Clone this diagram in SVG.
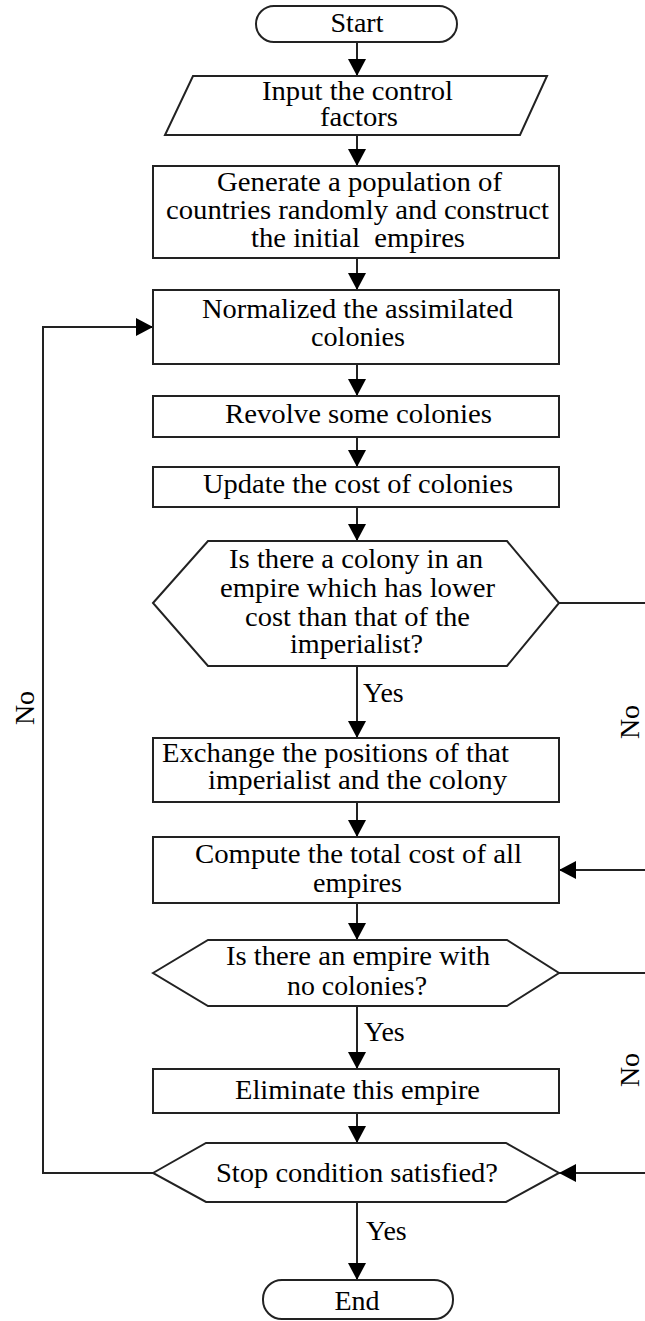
<svg xmlns="http://www.w3.org/2000/svg" width="645" height="1321" viewBox="0 0 645 1321">
<style>
.n{fill:#fff;stroke:#222;stroke-width:2}
.t{font-family:'Liberation Serif','Times New Roman',Times,'DejaVu Serif','Noto Serif',serif;font-size:28px;fill:#000;text-anchor:middle}
.s{text-anchor:start}
.c{fill:none;stroke:#222;stroke-width:2}
</style>
<defs>
<marker id="ah" viewBox="0 0 17 18" refX="17" refY="9" markerWidth="17" markerHeight="18" markerUnits="userSpaceOnUse" orient="auto">
<path d="M0,0 L17,9 L0,18 z" fill="#000"/>
</marker>
</defs>
<rect width="645" height="1321" fill="#fff"/>
<g id="connectors">
<path class="c" d="M357,42 V76" marker-end="url(#ah)"/>
<path class="c" d="M357,135 V166" marker-end="url(#ah)"/>
<path class="c" d="M357,258 V290" marker-end="url(#ah)"/>
<path class="c" d="M357,364 V396" marker-end="url(#ah)"/>
<path class="c" d="M357,437 V467" marker-end="url(#ah)"/>
<path class="c" d="M357,507 V541" marker-end="url(#ah)"/>
<path class="c" d="M357,666 V738" marker-end="url(#ah)"/>
<path class="c" d="M357,802 V837" marker-end="url(#ah)"/>
<path class="c" d="M357,903 V940" marker-end="url(#ah)"/>
<path class="c" d="M357,1006 V1069" marker-end="url(#ah)"/>
<path class="c" d="M357,1113 V1143" marker-end="url(#ah)"/>
<path class="c" d="M357,1202 V1280" marker-end="url(#ah)"/>
<path class="c" d="M559,603 H660 V870 H559" marker-end="url(#ah)"/>
<path class="c" d="M559,973 H660 V1173 H559" marker-end="url(#ah)"/>
<path class="c" d="M153,1173 H43 V327 H153" marker-end="url(#ah)"/>
<text class="t s" x="363" y="702">Yes</text>
<text class="t s" x="364" y="1041">Yes</text>
<text class="t s" x="366" y="1240">Yes</text>
<text class="t" transform="translate(34,708) rotate(-90)">No</text>
<text class="t" transform="translate(639,722) rotate(-90)">No</text>
<text class="t" transform="translate(639,1070) rotate(-90)">No</text>
</g>
<g id="start">
<rect class="n" x="256" y="6" width="201" height="36" rx="18"/>
<text class="t" x="357" y="32">Start</text>
</g>
<g id="input">
<polygon class="n" points="193,76 547,76 520,135 165,135"/>
<text class="t" x="357.5" y="100" textLength="191" lengthAdjust="spacingAndGlyphs">Input the control</text>
<text class="t" x="359" y="126" textLength="78" lengthAdjust="spacingAndGlyphs">factors</text>
</g>
<g id="generate">
<rect class="n" x="153" y="166" width="406" height="92"/>
<text class="t" x="359.5" y="191" textLength="285" lengthAdjust="spacingAndGlyphs">Generate a population of</text>
<text class="t" x="357.5" y="219" textLength="383" lengthAdjust="spacingAndGlyphs">countries randomly and construct</text>
<text class="t" x="358" y="247" textLength="214" lengthAdjust="spacingAndGlyphs">the initial&#160; empires</text>
</g>
<g id="normalize">
<rect class="n" x="153" y="290" width="406" height="74"/>
<text class="t" x="357.5" y="318" textLength="311" lengthAdjust="spacingAndGlyphs">Normalized the assimilated</text>
<text class="t" x="358" y="346" textLength="94" lengthAdjust="spacingAndGlyphs">colonies</text>
</g>
<g id="revolve">
<rect class="n" x="153" y="396" width="406" height="41"/>
<text class="t" x="358.5" y="423" textLength="267" lengthAdjust="spacingAndGlyphs">Revolve some colonies</text>
</g>
<g id="update">
<rect class="n" x="153" y="467" width="406" height="40"/>
<text class="t" x="358" y="493" textLength="310" lengthAdjust="spacingAndGlyphs">Update the cost of colonies</text>
</g>
<g id="decision1">
<polygon class="n" points="153,603 208,541 507,541 559,603 507,666 208,666"/>
<text class="t" x="356" y="568" textLength="254" lengthAdjust="spacingAndGlyphs">Is there a colony in an</text>
<text class="t" x="357.5" y="597" textLength="275" lengthAdjust="spacingAndGlyphs">empire which has lower</text>
<text class="t" x="357.5" y="626" textLength="225" lengthAdjust="spacingAndGlyphs">cost than that of the</text>
<text class="t" x="356.5" y="653" textLength="133" lengthAdjust="spacingAndGlyphs">imperialist?</text>
</g>
<g id="exchange">
<rect class="n" x="153" y="738" width="406" height="64"/>
<text class="t s" x="162" y="762" textLength="347" lengthAdjust="spacingAndGlyphs">Exchange the positions of that</text>
<text class="t" x="357.5" y="789" textLength="299" lengthAdjust="spacingAndGlyphs">imperialist and the colony</text>
</g>
<g id="compute">
<rect class="n" x="153" y="837" width="406" height="66"/>
<text class="t" x="358.5" y="863" textLength="327" lengthAdjust="spacingAndGlyphs">Compute the total cost of all</text>
<text class="t" x="357.5" y="892" textLength="89" lengthAdjust="spacingAndGlyphs">empires</text>
</g>
<g id="decision2">
<polygon class="n" points="153,973 208,940 507,940 559,973 507,1006 208,1006"/>
<text class="t" x="358" y="965" textLength="264" lengthAdjust="spacingAndGlyphs">Is there an empire with</text>
<text class="t" x="357" y="995" textLength="140" lengthAdjust="spacingAndGlyphs">no colonies?</text>
</g>
<g id="eliminate">
<rect class="n" x="153" y="1069" width="406" height="44"/>
<text class="t" x="357.5" y="1099" textLength="245" lengthAdjust="spacingAndGlyphs">Eliminate this empire</text>
</g>
<g id="decision3">
<polygon class="n" points="153,1173 206,1143 506,1143 559,1173 506,1202 206,1202"/>
<text class="t" x="357" y="1182" textLength="282" lengthAdjust="spacingAndGlyphs">Stop condition satisfied?</text>
</g>
<g id="end">
<rect class="n" x="263" y="1280" width="190" height="39" rx="19"/>
<text class="t" x="357" y="1310">End</text>
</g>
</svg>
